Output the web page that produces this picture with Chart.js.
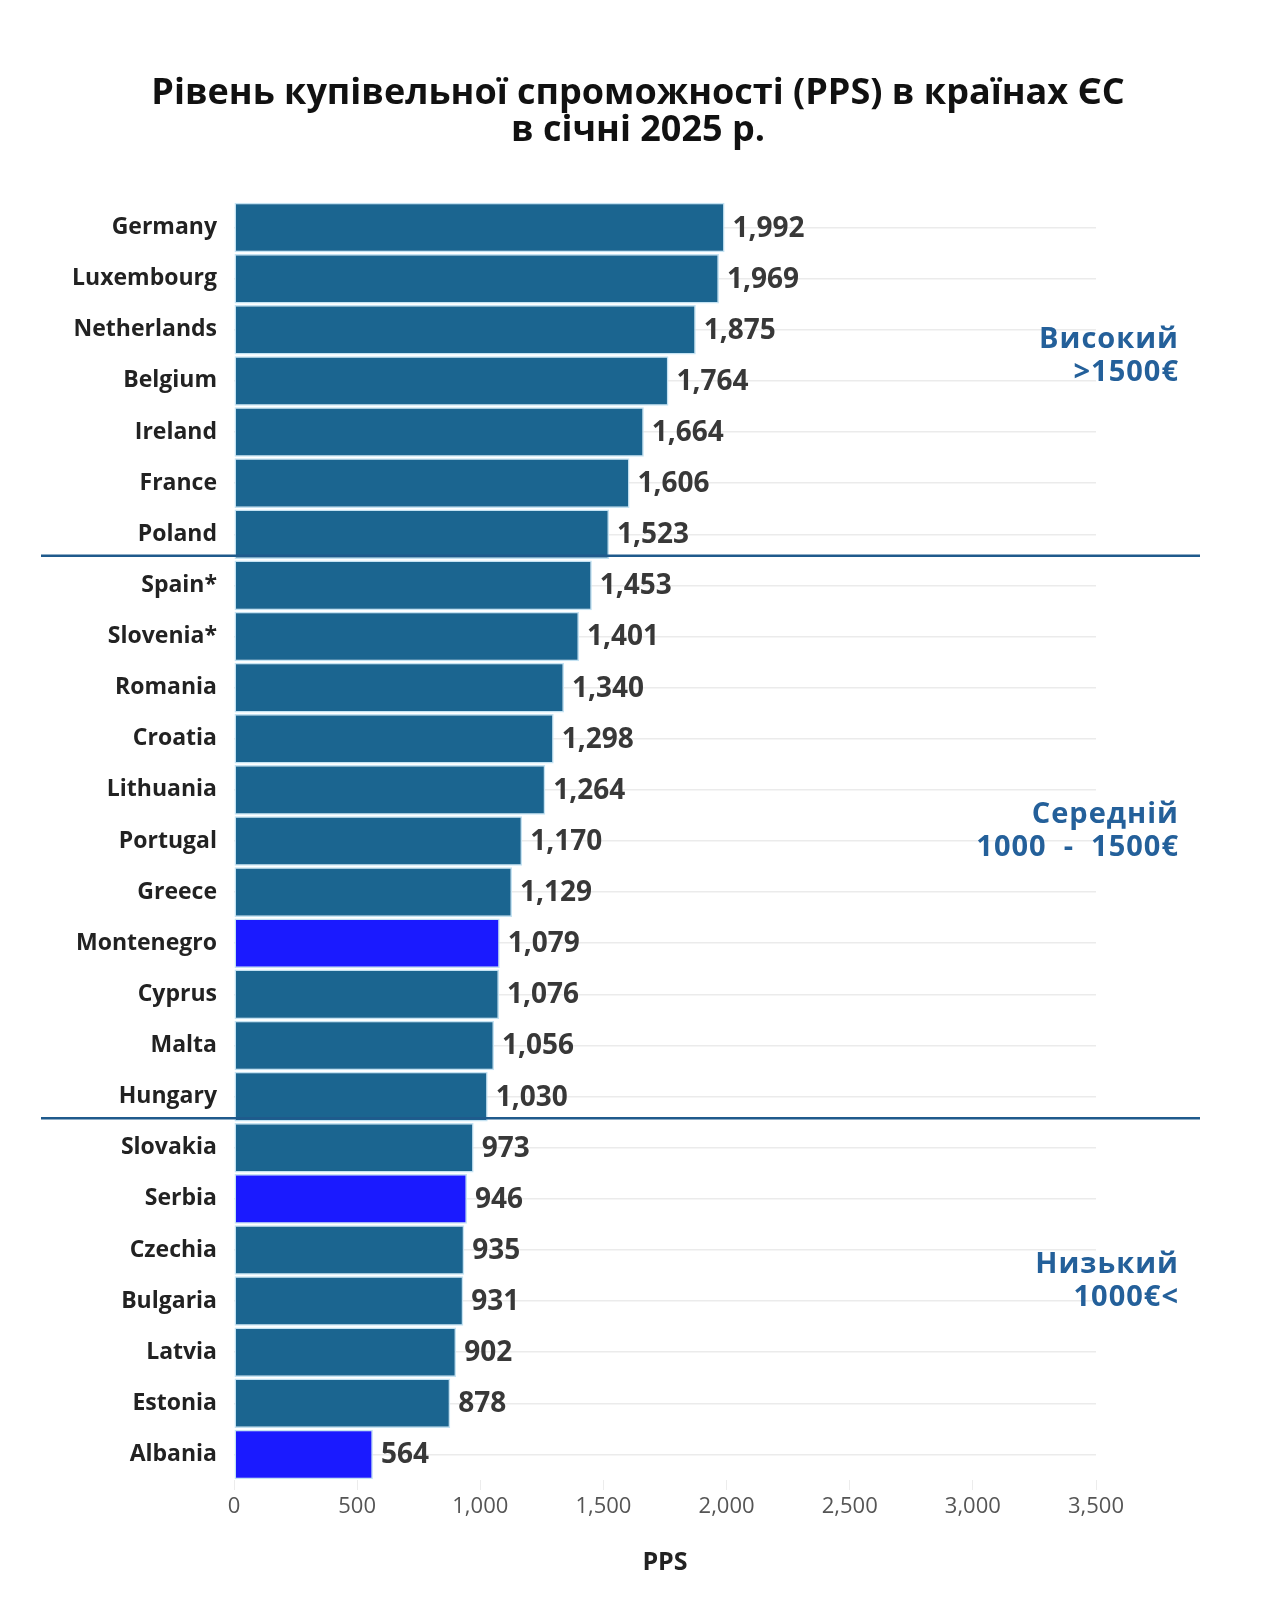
<!DOCTYPE html>
<html>
<head>
<meta charset="utf-8">
<script src="https://cdn.jsdelivr.net/npm/chart.js@4"></script>
<style>
  html, body { margin: 0; padding: 0; background: #fff; }
  #wrap { width: 1280px; height: 1600px; }
</style>
</head>
<body>
<div id="wrap"><canvas id="pps-chart" width="1280" height="1600"></canvas></div>
<script>
const countries = ['Germany', 'Luxembourg', 'Netherlands', 'Belgium', 'Ireland', 'France', 'Poland',
  'Spain*', 'Slovenia*', 'Romania', 'Croatia', 'Lithuania', 'Portugal', 'Greece', 'Montenegro',
  'Cyprus', 'Malta', 'Hungary', 'Slovakia', 'Serbia', 'Czechia', 'Bulgaria', 'Latvia', 'Estonia', 'Albania'];
const ppsValues = [1992, 1969, 1875, 1764, 1664, 1606, 1523,
  1453, 1401, 1340, 1298, 1264, 1170, 1129, 1079,
  1076, 1056, 1030, 973, 946, 935, 931, 902, 878, 564];
const nonEU = ['Montenegro', 'Serbia', 'Albania'];
const xTicks = [0, 500, 1000, 1500, 2000, 2500, 3000, 3500];
const titleLines = ['Рівень купівельної спроможності (PPS) в країнах ЄС', 'в січні 2025 р.'];
const thresholds = [1500, 1000];
const groupLabels = [['Високий', '>1500€'], ['Середній', '1000 - 1500€'], ['Низький', '1000€<']];

const FONT = "'Open Sans', 'Noto Sans', sans-serif";
const barColor = '#1b6590';
const highlightColor = '#1a1aff';
const groupColor = '#24609a';

// where the group captions sit (in rows)
const groupAnchor = [2.5, 11.8, 20.6];

const extras = {
  id: 'extras',
  afterDatasetsDraw(chart) {
    const ctx = chart.ctx;
    const meta = chart.getDatasetMeta(0);
    const y = chart.scales.y;

    // value labels
    ctx.save();
    ctx.font = 'bold 28px ' + FONT;
    ctx.fillStyle = '#383838';
    ctx.textBaseline = 'middle';
    ctx.textAlign = 'left';
    meta.data.forEach((bar, i) => {
      ctx.fillText(ppsValues[i].toLocaleString('en-US'), bar.x + 8, bar.y + 1);
    });
    ctx.restore();

    // separator lines between groups
    ctx.save();
    ctx.strokeStyle = '#1f5a8c';
    ctx.lineWidth = 2.5;
    thresholds.forEach(t => {
      const idx = ppsValues.findIndex(v => v < t);
      const yy = (y.getPixelForValue(idx - 1) + y.getPixelForValue(idx)) / 2 - 4;
      ctx.beginPath();
      ctx.moveTo(41, yy);
      ctx.lineTo(1200, yy);
      ctx.stroke();
    });
    ctx.restore();

    // group captions
    ctx.save();
    ctx.font = 'bold 29px ' + FONT;
    ctx.letterSpacing = '1px';
    ctx.fillStyle = groupColor;
    ctx.textAlign = 'right';
    ctx.textBaseline = 'middle';
    groupLabels.forEach((lines, g) => {
      const mid = y.getPixelForValue(groupAnchor[g]);
      ctx.fillText(lines[0], 1179, mid - 16);
      ctx.fillText(lines[1].replace(' - ', '  -  '), 1179, mid + 17);
    });
    ctx.restore();

    // title
    ctx.save();
    ctx.font = 'bold 36px ' + FONT;
    ctx.fillStyle = '#111';
    ctx.textAlign = 'center';
    ctx.textBaseline = 'middle';
    ctx.fillText(titleLines[0], 638, 94);
    ctx.fillText(titleLines[1], 638, 131);
    ctx.restore();
  }
};

new Chart(document.getElementById('pps-chart'), {
  type: 'bar',
  data: {
    labels: countries,
    datasets: [{
      data: ppsValues,
      backgroundColor: countries.map(c => nonEU.includes(c) ? highlightColor : barColor),
      borderColor: '#c4e2f2',
      borderWidth: 1.5,
      borderSkipped: false,
      barPercentage: 0.97,
      categoryPercentage: 1
    }]
  },
  options: {
    indexAxis: 'y',
    responsive: false,
    animation: false,
    layout: { padding: { top: 202, right: 184, left: 0, bottom: 0 } },
    plugins: {
      legend: { display: false },
      tooltip: { enabled: false }
    },
    scales: {
      x: {
        min: 0,
        max: 3500,
        afterBuildTicks: scale => { scale.ticks = xTicks.map(v => ({ value: v })); },
        afterFit: scale => { scale.height = 120; },
        border: { display: false },
        grid: { drawOnChartArea: false, drawTicks: true, tickLength: 10, color: '#ececec' },
        ticks: {
          padding: 4,
          color: '#555',
          font: { family: FONT, size: 22 },
          callback: v => v.toLocaleString('en-US')
        },
        title: {
          display: true,
          text: 'PPS',
          color: '#222',
          font: { family: FONT, size: 25, weight: 'bold' },
          padding: { top: 0, bottom: 22 }
        }
      },
      y: {
        afterFit: scale => { scale.width = 234; },
        border: { display: false },
        grid: { offset: false, drawTicks: false, color: '#ebebeb', lineWidth: 1.5 },
        ticks: {
          padding: 17,
          color: '#222',
          font: { family: FONT, size: 23, weight: 'bold' }
        }
      }
    }
  },
  plugins: [extras]
});
</script>
</body>
</html>
